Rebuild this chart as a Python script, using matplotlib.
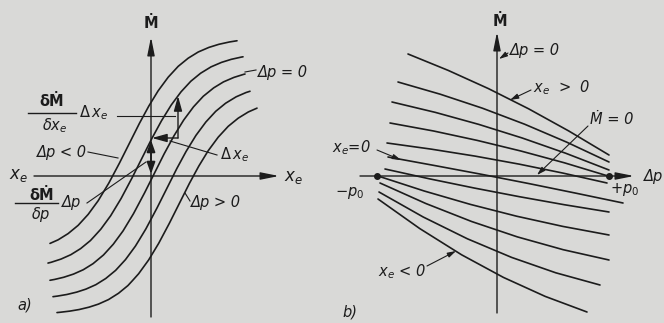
import numpy as np
import matplotlib
matplotlib.use('Agg')
import matplotlib.pyplot as plt

plt.rcParams['mathtext.fontset'] = 'dejavusans'
plt.rcParams['font.family'] = ['DejaVu Sans']

BG = '#d9d9d7'
INK = '#1c1c1c'

# ---------------- data: panel a) mass flow over x_e, one curve per pressure step
shape_dx = [-130, -120, -110, -100, -90, -80, -70, -60, -50, -40, -30, -20, -10, 0,
            10, 20, 30, 40, 50, 60, 70, 80, 90, 100, 110, 120, 130]
shape_dy = [-107.2, -106.5, -105.4, -103.8, -101.5, -98.3, -93.9, -87.7, -79.5, -68.6,
            -55.0, -38.6, -20.0, 0.0, 20.0, 38.6, 55.0, 68.6, 79.5, 87.7, 93.9, 98.3,
            101.5, 103.8, 105.4, 106.5, 107.2]
curve_cx = [-23, -10.5, 2, 14.5, 27]        # curve centre, x_e
curve_cy = [30, 15, 0, -15, -30]            # curve centre, Mdot
curve_xmin = [-101, -103, -101, -98, -94]
curve_xmax = [86, 92, 94, 99, 106]

# ---------------- data: panel b) mass flow over delta p, one line per x_e
line_x = [
    [-89, -48.8, -8.6, 31.6, 71.8, 112],
    [-99, -56.8, -14.6, 27.6, 69.8, 112],
    [-105, -61.6, -18.2, 25.2, 68.6, 112],
    [-107, -63.4, -19.8, 23.8, 67.4, 111],
    [-110, -66, -22, 22, 66, 110],
    [-109, -62, -15, 32, 79, 126],
    [-112, -67.2, -22.4, 22.4, 67.2, 112],
    [-119, -72.8, -26.6, 19.6, 65.8, 112],
    [-117, -71.2, -25.4, 20.4, 66.2, 112],
    [-118, -73.8, -29.6, 14.6, 58.8, 103],
    [-119, -77.2, -35.4, 6.4, 48.2, 90],
]
line_y = [
    [122, 105.6, 87.4, 67.2, 45.0, 21],
    [94, 81.8, 67.8, 51.8, 33.8, 14],
    [74, 63.6, 51.6, 38.0, 22.8, 6],
    [53, 45.0, 35.6, 25.0, 13.2, 0],
    [33, 26.9, 19.9, 11.9, 2.9, -7],
    [19, 10.4, 1.6, -7.6, -17.2, -27],
    [7, -2.9, -12.1, -20.7, -28.7, -36],
    [0, -15.0, -28.4, -40.2, -50.4, -59],
    [-7, -27.5, -45.5, -60.9, -73.7, -84],
    [-16, -41.0, -62.8, -81.4, -96.8, -109],
    [-23, -52.6, -78.8, -101.4, -120.4, -136],
]
p0_x = [-120, 112]
p0_y = [0, 0]

# ---------------- figure
fig = plt.figure(figsize=(6.64, 3.23), dpi=100, facecolor=BG)
axA = fig.add_axes([0, 0, 0.5, 1])
axB = fig.add_axes([0.5, 0, 0.5, 1])
axA.set_xlim(-151, 181); axA.set_ylim(-147, 176)
axB.set_xlim(-165, 167); axB.set_ylim(-147, 176)
for ax in (axA, axB):
    ax.set_facecolor(BG)
    ax.axis('off')

FS = 10.5
LW = 1.2
TXT = dict(fontsize=FS, color=INK, style='italic')

def arrow(ax, start, tip, hl=1.1, hw=0.22, lw=1.0, both=False):
    style = '<|-|>' if both else '-|>'
    ax.annotate('', xy=tip, xytext=start,
                arrowprops=dict(arrowstyle=f'{style},head_length={hl},head_width={hw}',
                                lw=lw, color=INK, shrinkA=0, shrinkB=0))

def leader(ax, p1, p2, lw=0.8):
    ax.plot([p1[0], p2[0]], [p1[1], p2[1]], color=INK, lw=lw)

# ---- panel a
arrow(axA, (0, -141), (0, 139))
arrow(axA, (-117, 0), (128, 0))
for i in range(len(curve_cx)):
    xs = np.linspace(curve_xmin[i], curve_xmax[i], 300)
    ys = np.interp(xs - curve_cx[i], shape_dx, shape_dy) + curve_cy[i]
    axA.plot(xs, ys, color=INK, lw=LW, solid_capstyle='round')

arrow(axA, (27, 38), (27, 80), hl=0.9, hw=0.25)
arrow(axA, (27, 38), (1, 38), hl=0.9, hw=0.25)
arrow(axA, (0, 2), (0, 36), hl=0.7, hw=0.25, both=True, lw=1.3)

axA.text(0, 152, 'Ṁ', fontsize=FS, ha='center', va='center', fontweight='bold', color=INK)
axA.text(-133, 1, '$x_e$', fontsize=FS + 1.5, ha='center', va='center', color=INK)
axA.text(142, -1, '$x_e$', fontsize=FS + 1.5, ha='center', va='center', color=INK)
axA.text(107, 104, 'Δp = 0', ha='left', va='center', **TXT)
leader(axA, (94, 104), (105, 106))

# fraction dM/dx_e * dx_e
axA.text(-99, 74, 'δṀ', fontsize=FS, ha='center', va='center', fontweight='bold', color=INK)
leader(axA, (-123, 63), (-75, 63), lw=1.0)
axA.text(-96, 50, r'$\delta x_e$', fontsize=FS, ha='center', va='center', color=INK)
axA.text(-72, 63, r'$\Delta\, x_e$', fontsize=FS, ha='left', va='center', color=INK)
leader(axA, (-34, 60), (24, 60))

axA.text(-114, 24, 'Δp < 0', ha='left', va='center', **TXT)
leader(axA, (-63, 24), (-33, 18))

# fraction dM/dp * dp
axA.text(-109, -19, 'δṀ', fontsize=FS, ha='center', va='center', fontweight='bold', color=INK)
leader(axA, (-136, -27), (-93, -27), lw=1.0)
axA.text(-110, -38, 'δp', ha='center', va='center', **TXT)
axA.text(-89, -26, 'Δp', ha='left', va='center', **TXT)
leader(axA, (-64, -27), (-5, 14))

axA.text(69, 21, r'$\Delta\, x_e$', fontsize=FS, ha='left', va='center', color=INK)
leader(axA, (66, 21), (19, 35))

axA.text(40, -27, 'Δp > 0', ha='left', va='center', **TXT)
leader(axA, (34, -17), (39, -25))

axA.text(-126, -129, 'a)', ha='center', va='center', **TXT)

# ---- panel b
arrow(axB, (0, -137), (0, 144))
arrow(axB, (-137, 0), (137, 0))
for xs, ys in zip(line_x, line_y):
    axB.plot(xs, ys, color=INK, lw=LW, solid_capstyle='round')
axB.plot(p0_x, p0_y, 'o', color=INK, ms=4)

axB.text(3, 154, 'Ṁ', fontsize=FS, ha='center', va='center', fontweight='bold', color=INK)
axB.text(13, 126, 'Δp = 0', ha='left', va='center', **TXT)
arrow(axB, (11, 123), (2, 117), hl=0.5, hw=0.15, lw=0.8)
axB.text(36, 88, r'$x_e$  >  0', ha='left', va='center', **TXT)
arrow(axB, (34, 86), (13, 76), hl=0.5, hw=0.15, lw=0.8)
axB.text(93, 56, 'Ṁ = 0', ha='left', va='center', **TXT)
arrow(axB, (91, 50), (40, 1), hl=0.5, hw=0.15, lw=0.8)
axB.text(-165, 28, r'$x_e$=0', ha='left', va='center', **TXT)
arrow(axB, (-120, 26), (-96, 16), hl=0.5, hw=0.15, lw=0.8)
axB.text(-147, -17, r'$-p_0$', fontsize=FS, ha='center', va='center', color=INK)
axB.text(128, -13, r'$+p_0$', fontsize=FS, ha='center', va='center', color=INK)
axB.text(-119, -96, r'$x_e$ < 0', ha='left', va='center', **TXT)
arrow(axB, (-70, -90), (-41, -75), hl=0.5, hw=0.15, lw=0.8)
axB.text(166, 0, 'Δp', ha='right', va='center', **TXT)
axB.text(-147, -136, 'b)', ha='center', va='center', **TXT)

fig.savefig('out.png', dpi=100, facecolor=BG)
